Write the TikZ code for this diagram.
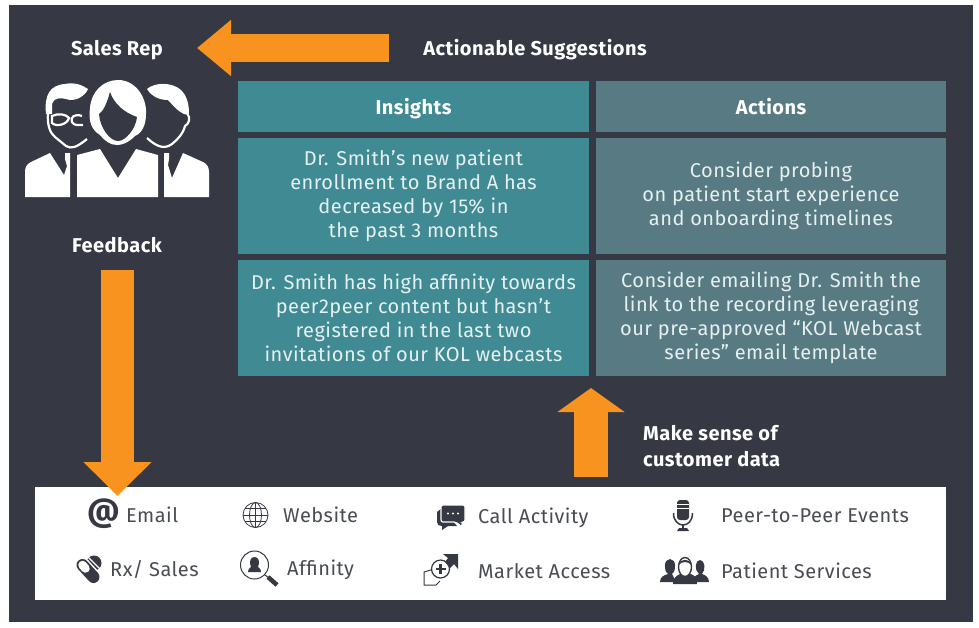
\documentclass[tikz,border=0pt]{standalone}
\usepackage{fontspec}
\setmainfont[LetterSpace=2.4]{Fira Sans}
\usetikzlibrary{arrows.meta}
\definecolor{slate}{HTML}{363843}
\definecolor{tealbox}{HTML}{3F8A93}
\definecolor{greybox}{HTML}{587A83}
\definecolor{flow}{HTML}{F7931E}
\definecolor{lighttext}{HTML}{E6F0F1}
\definecolor{icontext}{HTML}{4A4C55}
\tikzset{
  insight/.style={fill=tealbox, text=lighttext, minimum width=351, align=center, font=\fontsize{20}{24}\selectfont},
  action/.style={fill=greybox, text=lighttext, minimum width=350, align=center, font=\fontsize{20}{24}\selectfont},
  title/.style={text=white, text height=18, text depth=3, font=\fontsize{20}{24}\selectfont\bfseries},
  head/.style={text=white, font=\fontsize{20}{26}\selectfont\bfseries, align=left},
  source/.style={text=icontext, anchor=base west, inner sep=0pt, font=\fontsize{20}{24}\selectfont},
  flowline/.style n args={3}{draw=flow, line width=#1, -{Triangle[length=#2,width=#3]}},
  iconline/.style={draw=slate, line width=0.8, fill=none}
}
\begin{document}
\begin{tikzpicture}[x=1pt,y=-1pt]
    \useasboundingbox (0,0) rectangle (979,627);
    \fill[slate] (9,5) rectangle (973,622);
    \fill[white] (35,487) rectangle (946,600);

    \node[head] (rep) at (117,50) {Sales Rep};
    \node[head] (suggest) at (535,50) {Actionable Suggestions};
    \node[head] (feedback) at (117,245) {Feedback};
    \node[head, anchor=west, inner sep=0pt] (sense) at (643,446) {Make sense of\\customer data};

    \node[insight, minimum height=51, title] (insights) at (413.5,106.5) {Insights};
    \node[action, minimum height=51, title] (actions) at (771,106.5) {Actions};
    \node[insight, minimum height=116] (insightA) at (413.5,196) {Dr. Smith’s new patient\\enrollment to Brand A has\\decreased by 15\% in\\the past 3 months};
    \node[action, minimum height=116] (actionA) at (771,196) {Consider probing\\on patient start experience\\and onboarding timelines};
    \node[insight, minimum height=116] (insightB) at (413.5,318) {Dr. Smith has high affinity towards\\peer2peer content but hasn’t\\registered in the last two\\invitations of our KOL webcasts};
    \node[action, minimum height=116] (actionB) at (771,318) {Consider emailing Dr. Smith the\\link to the recording leveraging\\our pre-approved “KOL Webcast\\series” email template};

    % block arrows
    \coordinate (toRepA) at (389,48);
    \coordinate (toRepB) at (197,48);
    \coordinate (fbA) at (117.5,270);
    \coordinate (fbB) at (117.5,496);
    \coordinate (upA) at (591,477);
    \coordinate (upB) at (591,388);
    \draw[flowline={28}{34}{54}] (toRepA) -- (toRepB);
    \draw[flowline={33}{34}{66}] (fbA) -- (fbB);
    \draw[flowline={34}{24}{66}] (upA) -- (upB);

    % sales rep group
    \fill[white] (25,197) -- (25,172) .. controls (25,167) and (27,164) .. (31,162) -- (50,153) -- (64,175) -- (67,166) -- (65,159) -- (65,153) -- (70,153) -- (70,197) -- cycle;
    \fill[white] (77,197) -- (77,155) -- (100,149) -- (118,178) -- (136,149) -- (158,155) -- (158,197) -- cycle;
    \fill[white] (164,197) -- (164,153) -- (169,153) -- (169,159) -- (168,165) -- (172,178) -- (183,153) -- (203,162) .. controls (207,164) and (209,167) .. (209,172) -- (209,197) -- cycle;
    \fill[white] (46,114) .. controls (44,95) and (50,85) .. (65,84) .. controls (75,82) and (82,85) .. (88,89) .. controls (85,96) and (78,100) .. (70,100) .. controls (62,98) and (55,96) .. (52,104) -- (52,114) -- cycle;
    \draw[white, line width=2.2] (48,113) .. controls (47,125) and (50,133) .. (55,137) -- (66,146) .. controls (71,149) and (76,148) .. (87,139);
    \draw[white, line width=2.2] (52,116) .. controls (58,113) and (66,114) .. (69,118) .. controls (67,125) and (56,127) .. (52,123) -- cycle;
    \draw[white, line width=2.2] (82,116) .. controls (74,113) and (70,118) .. (72,122) .. controls (74,126) and (79,125) .. (83,125);
    \fill[white] (147,89) .. controls (155,82) and (172,82) .. (181,90) .. controls (188,97) and (189,106) .. (189,115) -- (184,114) .. controls (176,110) and (172,104) .. (168,100) .. controls (160,100) and (152,97) .. (147,89) -- cycle;
    \draw[white, line width=2.2] (187,113) .. controls (191,118) and (189,124) .. (185,126) .. controls (183,134) and (178,139) .. (172,144) .. controls (165,149) and (158,148) .. (147,138);
    \fill[white] (118,80) .. controls (136,80) and (147,98) .. (146,114) .. controls (146,125) and (142,133) .. (135,136) .. controls (128,143) and (122,145) .. (117,145) .. controls (110,145) and (105,141) .. (100,135) .. controls (92,130) and (88,122) .. (90,108) .. controls (91,92) and (103,80) .. (118,80) -- cycle;
    \fill[slate] (110,92) .. controls (114,104) and (125,113) .. (137,117) .. controls (136,128) and (126,141) .. (118,141) .. controls (110,141) and (100,128) .. (99,114) .. controls (103,112) and (107,103) .. (110,92) -- cycle;

    % source list
    \node[source, text=slate, anchor=west, font=\fontsize{32}{32}\selectfont\bfseries] (emailIcon) at (87,514) {@};
    \node[source] (email) at (126,522) {Email};
    \node[source] (website) at (283,522) {Website};
    \node[source] (call) at (478,523) {Call Activity};
    \node[source] (peer) at (721,522) {Peer-to-Peer Events};
    \node[source] (sales) at (110,576) {Rx/ Sales};
    \node[source] (affinity) at (287,575) {Affinity};
    \node[source] (market) at (478,578) {Market Access};
    \node[source] (patient) at (721,578) {Patient Services};

    % website icon
    \draw[iconline] (255.5,515) circle (12.5);
    \draw[iconline] (255.5,515) ellipse (6 and 12.5);
    \draw[iconline] (255.5,502.5) -- (255.5,527.5);
    \draw[iconline] (243,515) -- (268,515);
    \draw[iconline] (245,508.5) -- (266,508.5);
    \draw[iconline] (245,521.5) -- (266,521.5);

    % call icon
    \fill[slate] (437,512) -- (437,522) .. controls (437,525) and (439,526) .. (442,526) -- (442,530) -- (448,526) -- (457,526) -- (442,508) -- cycle;
    \draw[white, line width=1.2, fill=slate, rounded corners=2] (441,505) -- (465,505) -- (465,522) -- (462,522) -- (462,527) -- (456,522) -- (441,522) -- cycle;
    \fill[white] (448,513.5) circle (1.2) (453,513.5) circle (1.2) (458,513.5) circle (1.2);

    % mic icon
    \fill[slate, rounded corners=3] (677,500) rectangle (689,520);
    \draw[white, line width=0.8] (677,504) -- (689,504) (677,508) -- (689,508);
    \draw[slate, line width=1.5] (673.5,513) .. controls (673.5,529) and (692.5,529) .. (692.5,513);
    \draw[slate, line width=2] (683,524) -- (683,529);
    \fill[slate] (677,531) -- (679,528) -- (687,528) -- (689,531) -- cycle;

    % pill icon
    \fill[slate] (94,563) circle (7.5);
    \draw[white, line width=1.2] (88,557) -- (101,570);
    \draw[white, line width=15, line cap=round] (82.5,565) -- (93.5,577);
    \draw[slate, line width=12, line cap=round] (82.5,565) -- (93.5,577);
    \draw[white, line width=8.5, line cap=round] (82.5,565) -- (85.5,568.5);

    % affinity icon
    \draw[slate, line width=1] (254.5,565) circle (14);
    \fill[slate] (248,572) .. controls (248,568) and (251,568) .. (251,567) .. controls (249,562) and (250,557) .. (254.5,557) .. controls (259,557) and (260,562) .. (258,567) .. controls (258,568) and (261,568) .. (261,572) -- cycle;
    \draw[slate, line width=1] (265,575) -- (269,578);
    \draw[slate, line width=4.5] (268,577) -- (277,585);

    % market access icon
    \draw[slate, line width=1.2] (440.5,569) circle (9);
    \draw[slate, line width=2.6] (435.5,569) -- (445.5,569) (440.5,564) -- (440.5,574);
    \fill[slate] (443,554) -- (458,554) -- (458,569) -- (454,564) -- (450,568) -- (445,562) -- (448,558) -- cycle;
    \draw[slate, line width=1] (431,570) -- (424,572) -- (424,585) -- (436,585) -- (440,581);

    % patient services icon
    \fill[slate] (660,582) .. controls (660,577) and (664,575) .. (668,574) .. controls (663,570) and (664,559) .. (670,559) .. controls (676,559) and (677,570) .. (672,574) -- (676,582) -- cycle;
    \fill[slate] (691,582) .. controls (692,577) and (697,575) .. (699,574) .. controls (694,570) and (695,560) .. (700,560) .. controls (705,560) and (706,570) .. (702,574) .. controls (705,575) and (709,577) .. (709,582) -- cycle;
    \fill[slate] (673,584) .. controls (673,578) and (676,576) .. (680,574) -- (691,574) .. controls (695,576) and (697,578) .. (697,584) -- cycle;
    \draw[slate, fill=white, line width=1.4] (685,567) ellipse (6.5 and 9.5);
    \fill[slate] (678.5,565) .. controls (680,558) and (690,558) .. (691.5,565) .. controls (688,561) and (682,561) .. (678.5,565) -- cycle;
\end{tikzpicture}
\end{document}
